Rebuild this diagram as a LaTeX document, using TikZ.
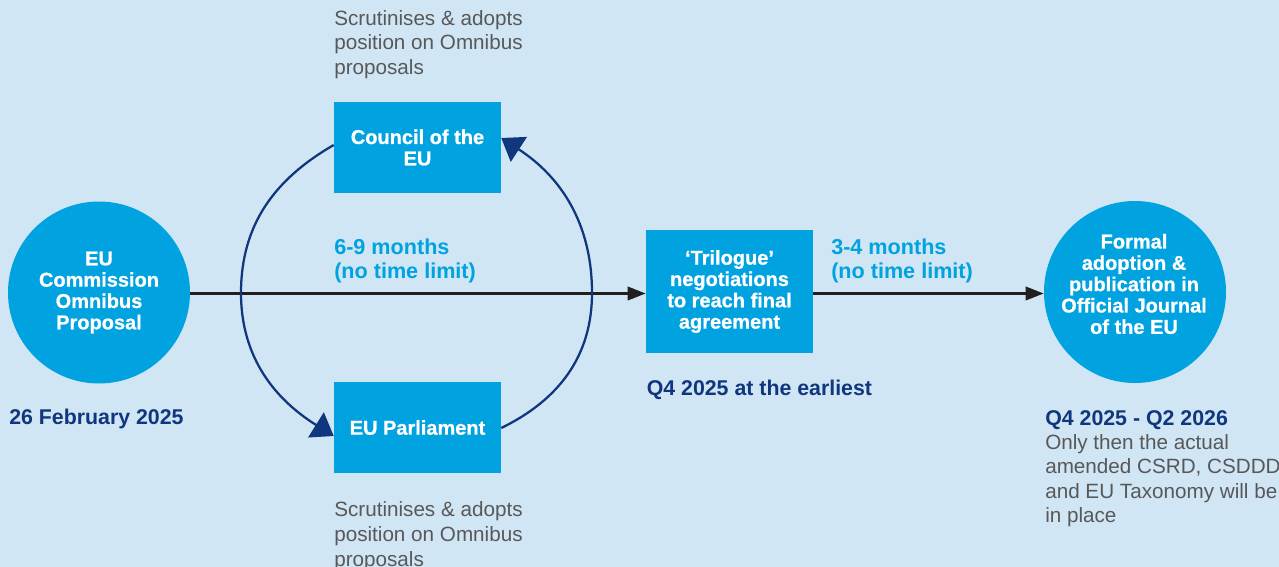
\documentclass[tikz,border=0pt]{standalone}
\usepackage{fontspec}
\setmainfont{Liberation Sans}
\newfontfamily\heavyfont{Liberation Sans Bold}[FakeBold=0.8]
\usetikzlibrary{arrows.meta,calc}

\definecolor{bgblue}{RGB}{209,230,245}
\definecolor{boxblue}{RGB}{0,162,224}
\definecolor{navy}{RGB}{16,54,125}
\definecolor{graytext}{RGB}{88,88,88}
\definecolor{flowblack}{RGB}{35,31,32}

\begin{document}
\begin{tikzpicture}[x=0.75pt,y=-0.75pt,
  stage/.style={fill=boxblue, text=white, font=\heavyfont\fontsize{15}{16}\selectfont,
    align=center, inner sep=0pt},
  stagebox/.style={stage, rectangle, minimum width=125.25pt, minimum height=68.25pt},
  stagecircle/.style={stage, circle, minimum size=136.5pt},
  stagetext/.style={text=white, font=\heavyfont\fontsize{15}{16}\selectfont,
    align=center, inner sep=0pt},
  flow/.style={draw=flowblack, line width=1.9pt, -{Triangle[length=13.5pt,width=10pt]}},
  loopline/.style={draw=navy, line width=1.7pt, -{Triangle[length=15.75pt,width=22pt]}},
  % multi-line texts are placed by the baseline of their last line
  note/.style={text=graytext, font=\fontsize{15.5}{18.4}\selectfont, align=left,
    inner sep=0pt, anchor=base west},
  datelabel/.style={text=navy, font=\bfseries\fontsize{16}{18}\selectfont, align=left,
    inner sep=0pt, anchor=base west},
  duration/.style={text=boxblue, font=\bfseries\fontsize{16.2}{18}\selectfont, align=left,
    inner sep=0pt, anchor=base west},
]
% canvas
\fill[bgblue] (0,0) rectangle (1279,567);
\useasboundingbox (0,0) rectangle (1279,567);

% stages
\node[stagecircle] (proposal) at (99,292.5) {EU\\Commission\\Omnibus\\Proposal};
\node[stagebox] (council) at (417.5,147.5) {Council of the\\EU};
\node[stagebox] (parliament) at (417.5,427.5) {EU Parliament};
\node[stagebox, minimum height=92.25pt] (trilogue) at (729.5,291.5)
  {‘Trilogue’\\negotiations\\to reach final\\agreement};
\node[stagecircle] (adoption) at (1135,292) {};
\node[stagetext] (adoptiontext) at (1134,284)
  {Formal\\adoption \&\\publication in\\Official Journal\\of the EU};

% main flow
\draw[flow] (proposal.east |- 0,293.5) -- (trilogue.west |- 0,293.5);
\draw[flow] (trilogue.east |- 0,293.5) -- (adoption.west |- 0,293.5);

% scrutiny loop between Council and Parliament
\coordinate (loopleft) at (241,293);
\coordinate (loopright) at (592,293);
\draw[loopline] ($(council.west)+(0,-2.5)$) to[out=210,in=90] (loopleft)
  to[out=-90,in=148] ($(parliament.west)+(0,8.5)$);
\draw[loopline] ($(parliament.east)+(0,0.5)$) to[out=26,in=-90] (loopright)
  to[out=90,in=-33] ($(council.east)+(0,-9.5)$);

% annotations
\node[note] (councilnote) at (334,74.5) {Scrutinises \& adopts\\position on Omnibus\\proposals};
\node[note] (parliamentnote) at (334,566) {Scrutinises \& adopts\\position on Omnibus\\proposals};
\node[duration] (loopduration) at (334,278) {6-9 months\\(no time limit)};
\node[duration] (trilogueduration) at (831,278) {3-4 months\\(no time limit)};
\node[datelabel] (proposaldate) at (9,424) {26 February 2025};
\node[datelabel] (trilogueddate) at (646.5,395) {Q4 2025 at the earliest};
\node[datelabel] (adoptiondate) at (1045,425) {Q4 2025 - Q2 2026};
\node[note] (adoptionnote) at (1045,522.8)
  {Only then the actual\\amended CSRD, CSDDD\\and EU Taxonomy will be\\in place};
\end{tikzpicture}
\end{document}
